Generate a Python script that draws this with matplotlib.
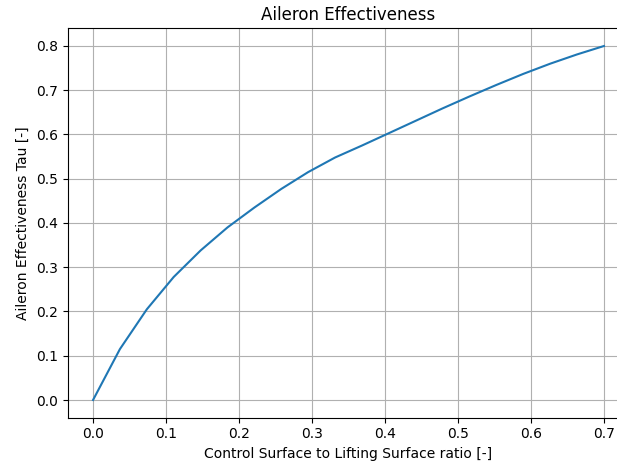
import numpy as np
import matplotlib
matplotlib.use("Agg")
import matplotlib.pyplot as plt

# control surface ratio (20 evenly spaced samples from 0 to 0.7)
ratio = [0.0, 0.0368, 0.0737, 0.1105, 0.1474, 0.1842, 0.2211, 0.2579, 0.2947, 0.3316,
         0.3684, 0.4053, 0.4421, 0.4789, 0.5158, 0.5526, 0.5895, 0.6263, 0.6632, 0.7]
tau = [0.0, 0.115, 0.205, 0.278, 0.338, 0.39, 0.435, 0.477, 0.515, 0.548,
       0.575, 0.603, 0.631, 0.659, 0.686, 0.712, 0.737, 0.760, 0.781, 0.800]

fig = plt.figure(figsize=(6.17, 4.65), dpi=100)
# reference image is cropped on the right, so the axes run slightly past the edge
ax = fig.add_axes([67.5 / 617, 1 - 417.7 / 465, 562 / 617, 389.4 / 465])
ax.plot(ratio, tau)
ax.set_title("Aileron Effectiveness")
ax.set_xlabel("Control Surface to Lifting Surface ratio [-]")
ax.set_ylabel("Aileron Effectiveness Tau [-]")
ax.grid(True)
fig.savefig("out.png")
